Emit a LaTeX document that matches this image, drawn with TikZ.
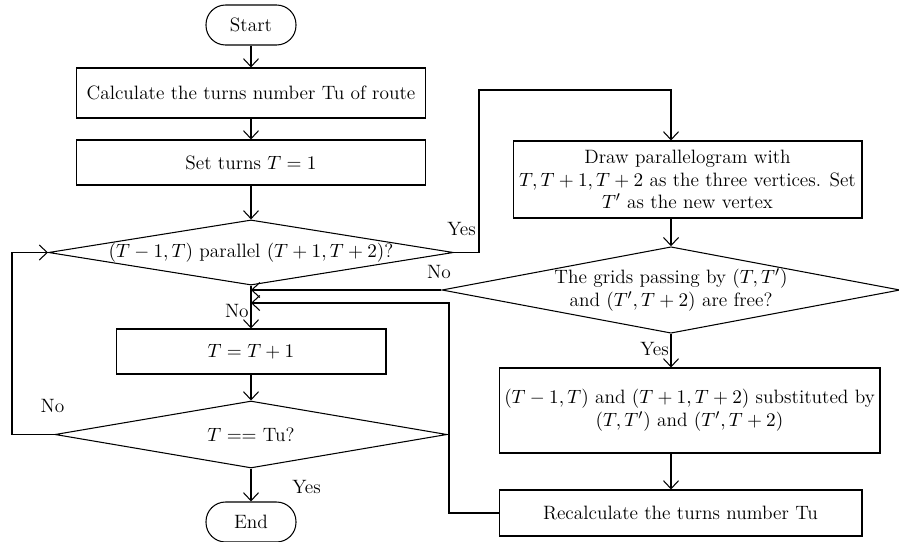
\documentclass[tikz,border=0pt]{standalone}
\usetikzlibrary{shapes.geometric}
\usetikzlibrary{arrows.meta}
\usetikzlibrary{positioning}

\tikzset{
  box/.style={draw, rectangle, inner sep=2pt, align=center},
  term/.style={draw, rectangle, rounded corners=0.39cm, minimum width=1.8cm, minimum height=0.8cm},
  test/.style={draw, diamond, inner sep=0pt, align=center},
  flow/.style={-{Straight Barb[length=1.6mm,width=3mm]}},
}

\begin{document}
\begin{tikzpicture}[x=0.02cm, y=-0.02cm, line width=0.6pt, font=\fontsize{11}{13}\selectfont]
      \useasboundingbox (0,0) rectangle (899,541);
      % left column
      \node[term] (start) at (251,25) {Start};
      \node[box, minimum width=7cm, minimum height=1cm] (calc) at (251,93) {Calculate the turns number Tu of route};
      \node[box, minimum width=7cm, minimum height=0.9cm] (init) at (251,162.5) {Set turns $T = 1$};
      \node[test, aspect=6.2, minimum width=8.1cm, minimum height=1.3cm] (par) at (251,252.5) {$(T-1,T)$ parallel $(T+1,T+2)$?};
      \node[box, minimum width=5.4cm, minimum height=0.9cm] (inc) at (251,351.5) {$T = T+1$};
      \node[test, aspect=5.85, minimum width=7.84cm, minimum height=1.34cm] (last) at (251,434.5) {$T ==$ Tu?};
      \node[term] (end) at (251,522) {End};
      % right column
      \node[box, minimum width=6.98cm, minimum height=1.54cm] (draw) at (687.5,179.5) {Draw parallelogram with\\ $T, T+1, T+2$ as the three vertices. Set\\ $T'$ as the new vertex};
      \node[test, aspect=5.3, minimum width=9.12cm, minimum height=1.72cm] (free) at (671,290) {The grids passing by $(T,T')$\\ and $(T',T+2)$ are free?};
      \node[box, minimum width=7.62cm, minimum height=1.7cm] (subst) at (689.5,410.5) {$(T-1,T)$ and $(T+1,T+2)$ substituted by\\ $(T,T')$ and $(T',T+2)$};
      \node[box, minimum width=7.26cm, minimum height=0.92cm] (recalc) at (680.5,513) {Recalculate the turns number Tu};

      \coordinate (loopL) at (12,252.5);
      \coordinate (yesR) at (479,90);
      \coordinate (back) at (449,303);

      \draw[flow] (start) -- (calc);
      \draw[flow] (calc) -- (init);
      \draw[flow] (init) -- (par);
      \draw[flow] (par) -- node[pos=0.6, left, inner sep=1pt] {No} (inc);
      \draw[flow] (inc) -- (last);
      \draw[flow] (last) -- node[pos=0.55, right=0.7cm] {Yes} (end);
      \draw[flow] (last.west) node[above=0.3cm, xshift=-0.04cm] {No} -- (last.west -| loopL) -- (loopL) -- (par.west);
      \draw[flow] (par.east) node[above=0.2cm, xshift=0.15cm] {Yes} -| (yesR) -| (free.north |- draw.north);
      \draw[flow] (draw.south -| free.north) -- (free.north);
      \draw[flow] (free.west) node[above=0.1cm, xshift=-0.05cm] {No} -- (free.west -| par.south);
      \draw[flow] (free.south) -- node[pos=0.45, left, inner sep=1pt] {Yes} (free.south |- subst.north);
      \draw[flow] (subst.south -| free.south) -- (free.south |- recalc.north);
      \draw[flow] (recalc.west) -| (back) -- (back -| par.south);
    \end{tikzpicture}
\end{document}
